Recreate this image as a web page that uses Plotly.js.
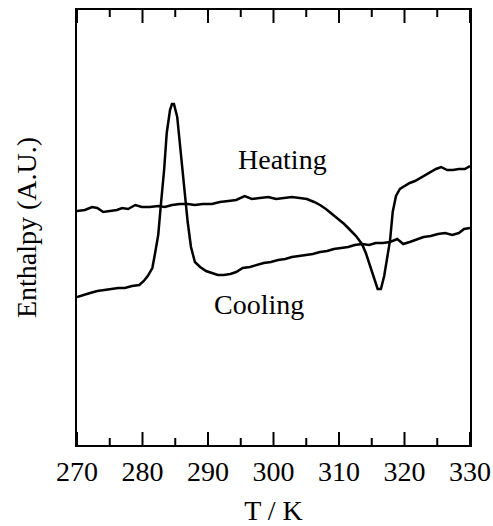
<!DOCTYPE html>
<html>
<head>
<meta charset="utf-8">
<script src="https://cdn.plot.ly/plotly-3.0.1.min.js"></script>
<style>html,body{margin:0;padding:0;background:#fff;}#chart{width:493px;height:526px;}</style>
</head>
<body>
<div id="chart"></div>
<script>
var heatT = [270.0,271.2,272.3,273.1,274.0,275.0,276.1,276.9,277.8,278.9,279.9,281.1,282.4,283.4,284.5,285.7,286.9,288.0,289.2,290.6,291.8,293.1,294.3,295.6,296.7,297.9,299.2,300.4,301.6,302.8,304.0,305.1,306.2,307.1,308.0,308.9,309.8,310.8,311.7,312.6,313.5,314.1,314.7,315.3,315.9,316.4,316.9,317.3,317.8,318.2,318.7,319.3,320.1,320.8,321.6,322.4,323.1,323.9,324.8,325.6,326.5,327.4,328.3,329.2,330.0];
var heatY = [234,235,238,237,233,234,235,237,236,240,238,238,239,238,240,241,241,240,241,241,243,244,245,249,246,247,248,246,247,248,247,246,243,240,236,231,226,221,215,209,201,192,180,167,156,156,169,185,205,233,249,256,259,262,264,267,269,272,276,278,275,275,276,276,279];
var coolT = [270.0,270.9,272.0,273.1,274.1,275.2,276.3,277.3,278.4,279.5,280.2,280.8,281.5,281.9,282.4,282.8,283.3,283.7,284.2,284.5,284.8,285.3,285.7,286.2,286.6,286.9,287.4,288.0,288.8,289.7,290.6,291.5,292.4,293.4,294.3,295.3,296.4,297.5,298.5,299.6,300.7,301.8,302.8,303.9,305.0,306.0,307.1,308.2,309.2,310.3,311.4,312.4,313.5,314.6,315.6,316.7,317.8,318.9,319.8,320.8,321.9,322.9,324.0,325.1,326.2,327.3,328.3,329.1,330.0];
var coolY = [148,150,152,154,155,156,157,157,159,160,164,169,177,191,210,240,275,312,335,341,341,328,302,273,240,223,198,183,178,174,172,170,170,171,173,177,178,180,182,183,185,186,188,189,190,191,193,194,196,197,198,200,201,200,202,202,203,206,201,203,206,208,209,211,212,210,212,216,217];
var xTickVals = [270,280,290,300,310,320,330];
var xMinorVals = [275,285,295,305,315,325];
var labels = ["Heating","Cooling"];
var labelX = [301.4,297.8];
var labelY = [286,141];

var fontFam = "'Liberation Serif','Times New Roman',serif";
var xRange = [xTickVals[0], xTickVals[xTickVals.length - 1]];
var yRange = [0, 435];

// inward tick marks on bottom and top frame (y units equal plot pixels here)
function tickTrace(vals, len) {
  var xs = [], ys = [];
  vals.forEach(function(v) {
    xs.push(v, v, null, v, v, null);
    ys.push(yRange[0], yRange[0] + len, null, yRange[1], yRange[1] - len, null);
  });
  return {x: xs, y: ys, mode: 'lines', line: {color: '#000', width: 2}, hoverinfo: 'skip', connectgaps: false};
}

var traces = [
  {x: heatT, y: heatY, mode: 'lines', line: {color: '#000', width: 2.5}},
  {x: coolT, y: coolY, mode: 'lines', line: {color: '#000', width: 2.5}},
  tickTrace(xTickVals, 13),
  tickTrace(xMinorVals, 7)
];
var layout = {
  width: 493, height: 526,
  margin: {l: 77, r: 23, t: 10, b: 81},
  showlegend: false,
  font: {family: fontFam, color: '#000', size: 28},
  xaxis: {
    range: xRange, tickmode: 'array', tickvals: xTickVals, ticks: '',
    showline: true, linewidth: 2, linecolor: 'black', mirror: true,
    gridcolor: 'rgba(0,0,0,0)', zeroline: false,
    tickfont: {size: 28, family: fontFam, color: '#000'},
    title: {text: 'T / K', standoff: 24, font: {size: 28, family: fontFam, color: '#000'}}
  },
  yaxis: {
    range: yRange, showticklabels: false, ticks: '', showline: true, linewidth: 2, linecolor: 'black',
    mirror: true, gridcolor: 'rgba(0,0,0,0)', zeroline: false,
    title: {text: 'Enthalpy (A.U.)', standoff: 30, font: {size: 28, family: fontFam, color: '#000'}}
  },
  annotations: labels.map(function(t, i) {
    return {x: labelX[i], y: labelY[i], text: t, showarrow: false, xref: 'x', yref: 'y',
      font: {size: 28, family: fontFam, color: '#000'}};
  })
};
Plotly.newPlot('chart', traces, layout, {displayModeBar: false});
</script>
</body>
</html>
